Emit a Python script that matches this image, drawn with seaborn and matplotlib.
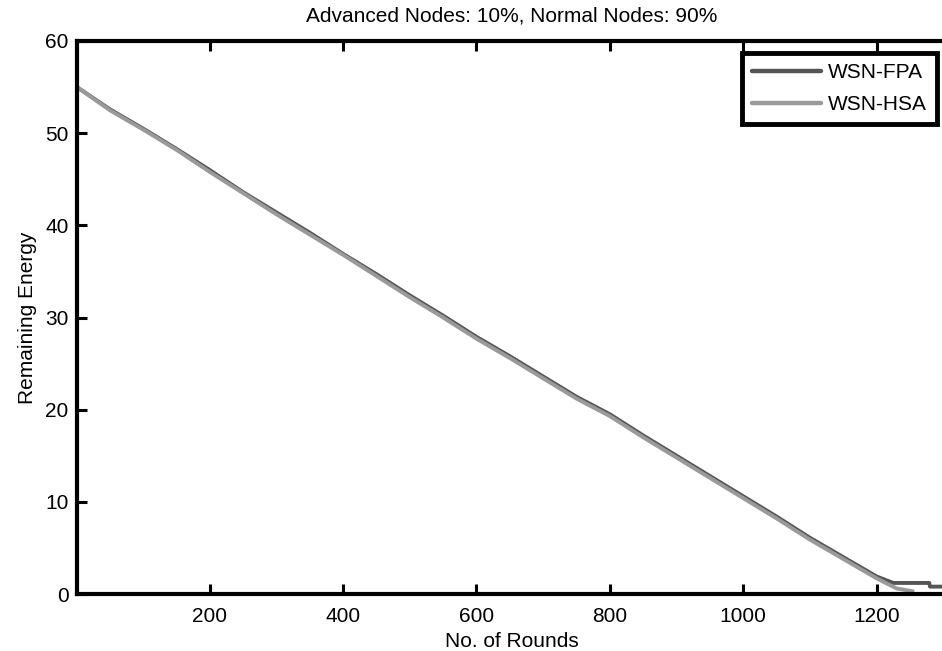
import numpy as np
import pandas as pd
import matplotlib
matplotlib.use("Agg")
import matplotlib.pyplot as plt
import seaborn as sns

# values (rounds vs remaining energy)
rounds_fpa = [1, 50, 100, 150, 200, 250, 300, 350, 400, 450, 500, 550, 600,
              650, 700, 750, 800, 850, 900, 950, 1000, 1050, 1100, 1150,
              1200, 1225, 1234, 1279, 1280, 1300]
energy_fpa = [55.0, 52.6, 50.5, 48.3, 46.0, 43.6, 41.4, 39.2, 36.9, 34.7,
              32.4, 30.2, 27.9, 25.8, 23.6, 21.4, 19.5, 17.2, 15.0, 12.8,
              10.6, 8.4, 6.1, 4.0, 1.9, 1.2, 1.2, 1.2, 0.8, 0.8]

rounds_hsa = [1, 50, 100, 150, 200, 250, 300, 350, 400, 450, 500, 550, 600,
              650, 700, 750, 800, 850, 900, 950, 1000, 1050, 1100, 1150,
              1200, 1230, 1254]
energy_hsa = [55.0, 52.5, 50.4, 48.2, 45.8, 43.5, 41.2, 39.0, 36.8, 34.5,
              32.2, 30.0, 27.7, 25.6, 23.4, 21.2, 19.3, 17.0, 14.8, 12.6,
              10.4, 8.2, 5.9, 3.8, 1.7, 0.6, 0.3]

series = ["WSN-FPA", "WSN-HSA"]
colors = ["#555555", "#9a9a9a"]

df = pd.concat([
    pd.DataFrame({"Rounds": rounds_fpa, "Energy": energy_fpa, "Algo": series[0]}),
    pd.DataFrame({"Rounds": rounds_hsa, "Energy": energy_hsa, "Algo": series[1]}),
])

sns.set_style("ticks", {"axes.edgecolor": "black", "text.color": "black",
                        "axes.labelcolor": "black", "xtick.color": "black",
                        "ytick.color": "black"})
plt.rcParams["font.family"] = ["Liberation Sans", "DejaVu Sans"]

fig = plt.figure(figsize=(9.42, 6.51), dpi=100)
ax = fig.add_axes([77 / 942, 57 / 651, 869 / 942, 553 / 651])

sns.lineplot(data=df, x="Rounds", y="Energy", hue="Algo", palette=colors,
             linewidth=2.8, estimator=None, sort=False, ax=ax)

ax.set_xlim(1, 1304)
ax.set_ylim(0, 60)
ax.set_xticks([200, 400, 600, 800, 1000, 1200])
ax.set_yticks([0, 10, 20, 30, 40, 50, 60])
ax.tick_params(direction="in", length=7, width=2.2, labelsize=15,
               top=True, right=False, colors="black")
ax.tick_params(axis="x", pad=9)
ax.tick_params(axis="y", pad=6)
for s in ax.spines.values():
    s.set_linewidth(3)
    s.set_visible(True)
    s.set_color("black")

ax.set_xlabel("No. of Rounds", fontsize=15, labelpad=5)
ax.set_ylabel("Remaining Energy", fontsize=15, labelpad=6)
ax.set_title("Advanced Nodes: 10%, Normal Nodes: 90%", fontsize=15, pad=14)

leg = ax.legend(loc="upper left", bbox_to_anchor=(742 / 942, 1 - 53 / 651),
                bbox_transform=fig.transFigure, fontsize=15,
                handlelength=3.3, handletextpad=0.3, borderpad=0.5,
                borderaxespad=0, labelspacing=0.6, fancybox=False,
                framealpha=1)
leg.get_frame().set_edgecolor("black")
leg.get_frame().set_linewidth(3.5)
for line in leg.get_lines():
    line.set_linewidth(3.2)

plt.savefig("out.png", dpi=100)
